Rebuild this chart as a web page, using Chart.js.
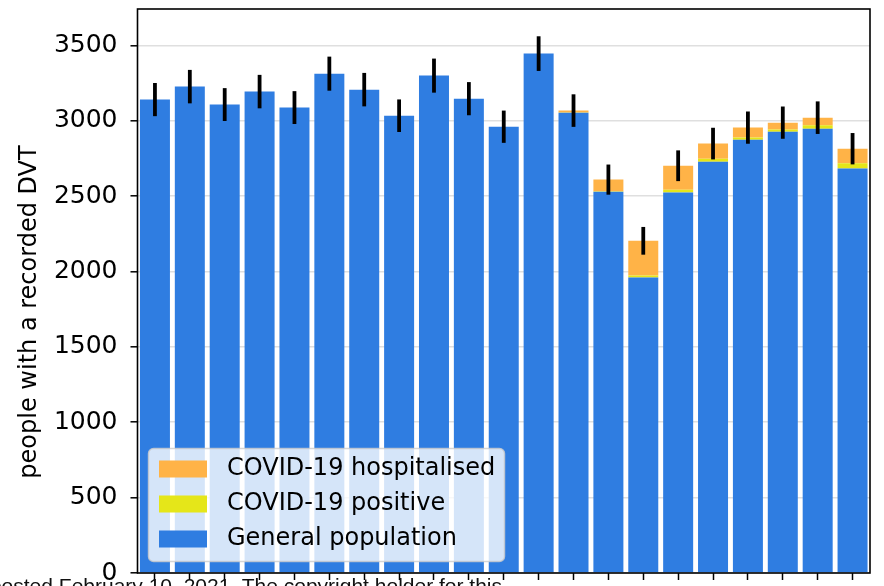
<!DOCTYPE html>
<html>
<head>
<meta charset="utf-8">
<script src="https://cdn.jsdelivr.net/npm/chart.js@4.4.1/dist/chart.umd.min.js"></script>
<style>
  html, body { margin: 0; padding: 0; background: #fff; }
  #wrap { position: relative; width: 884px; height: 586px; overflow: hidden; }
  #chart { position: absolute; left: 0; top: 0; }
  #stamp {
    position: absolute; left: 0; top: 575px; width: 502px;
    font: 21px "Liberation Sans", Arial, sans-serif; line-height: 1;
    color: #111; white-space: nowrap; overflow: hidden; direction: rtl; text-align: left;
  }
</style>
</head>
<body>
<div id="wrap">
  <canvas id="chart" width="884" height="586"></canvas>
  <div id="stamp"><span style="direction:ltr; unicode-bidi:embed">medRxiv preprint doi: this version posted February 10, 2021. The copyright holder for this</span></div>
</div>
<script>
const periods = ["1", "2", "3", "4", "5", "6", "7", "8", "9", "10", "11",
  "12", "13", "14", "15", "16", "17", "18", "19", "20", "21"];
const general = [3141, 3227, 3108, 3194, 3088, 3313, 3207, 3034, 3300, 3147, 2961,
  3446, 3054, 2530, 1961, 2525, 2729, 2875, 2928, 2948, 2683];
const positive = [0, 0, 0, 0, 0, 0, 0, 0, 0, 0, 0,
  0, 2, 3, 13, 18, 20, 15, 15, 22, 35];
const hospitalised = [0, 0, 0, 0, 0, 0, 0, 0, 0, 0, 0,
  0, 12, 77, 230, 159, 100, 65, 45, 51, 97];
const errors = [110, 111, 109, 111, 109, 113, 111, 108, 113, 110, 107,
  115, 108, 100, 92, 102, 105, 107, 107, 108, 104];
const yTicks = [0, 500, 1000, 1500, 2000, 2500, 3000, 3500];

const BLUE = "#2f7de1";
const YELLOW = "#e5e619";
const ORANGE = "#ffb347";
const FONT = '"DejaVu Sans", Verdana, sans-serif';

const legendItems = [
  { label: "COVID-19 hospitalised", color: ORANGE },
  { label: "COVID-19 positive", color: YELLOW },
  { label: "General population", color: BLUE }
];

// error bars, frame, legend and y title drawn after the bars and grid
const overlay = {
  id: "overlay",
  afterDraw(chart) {
    const ctx = chart.ctx;
    const x = chart.scales.x;
    const y = chart.scales.y;
    const area = chart.chartArea;

    ctx.save();
    ctx.strokeStyle = "#000";
    ctx.lineWidth = 3.8;
    general.forEach((g, i) => {
      const total = g + positive[i] + hospitalised[i];
      const px = x.getPixelForValue(i);
      ctx.beginPath();
      ctx.moveTo(px, y.getPixelForValue(total - errors[i]));
      ctx.lineTo(px, y.getPixelForValue(total + errors[i]));
      ctx.stroke();
    });

    // legend box
    const lx = 148.5, ly = 448.5, lw = 356, lh = 113, r = 5;
    ctx.beginPath();
    ctx.moveTo(lx + r, ly);
    ctx.arcTo(lx + lw, ly, lx + lw, ly + lh, r);
    ctx.arcTo(lx + lw, ly + lh, lx, ly + lh, r);
    ctx.arcTo(lx, ly + lh, lx, ly, r);
    ctx.arcTo(lx, ly, lx + lw, ly, r);
    ctx.closePath();
    ctx.fillStyle = "rgba(255,255,255,0.8)";
    ctx.fill();
    ctx.strokeStyle = "rgba(204,204,204,0.8)";
    ctx.lineWidth = 1.5;
    ctx.stroke();

    ctx.font = "24px " + FONT;
    ctx.textBaseline = "middle";
    ctx.textAlign = "left";
    legendItems.forEach((item, k) => {
      const cy = 469 + k * 35;
      ctx.fillStyle = item.color;
      ctx.fillRect(159, cy - 8.5, 48, 17);
      ctx.fillStyle = "#000";
      ctx.fillText(item.label, 227, cy);
    });

    // axes frame
    ctx.strokeStyle = "#000";
    ctx.lineWidth = 1.6;
    ctx.strokeRect(area.left, area.top, area.right - area.left, area.bottom - area.top);

    // y title
    ctx.translate(36, 312);
    ctx.rotate(-Math.PI / 2);
    ctx.textAlign = "center";
    ctx.textBaseline = "alphabetic";
    ctx.fillStyle = "#000";
    ctx.fillText("people with a recorded DVT", 0, 0);
    ctx.restore();
  }
};

new Chart(document.getElementById("chart"), {
  type: "bar",
  data: {
    labels: periods,
    datasets: [
      { label: "General population", data: general, backgroundColor: BLUE },
      { label: "COVID-19 positive", data: positive, backgroundColor: YELLOW },
      { label: "COVID-19 hospitalised", data: hospitalised, backgroundColor: ORANGE }
    ]
  },
  options: {
    responsive: false,
    animation: false,
    layout: { padding: { top: 9, right: 14, left: 0, bottom: 0 } },
    datasets: { bar: { barPercentage: 0.86, categoryPercentage: 1, borderWidth: 0 } },
    plugins: { legend: { display: false }, tooltip: { enabled: false } },
    scales: {
      x: {
        stacked: true,
        offset: true,
        border: { display: false },
        grid: { display: true, offset: false, drawOnChartArea: false, drawTicks: true,
          tickLength: 7, tickColor: "#000", tickWidth: 1.5 },
        ticks: { display: false },
        afterFit(scale) {
          scale.height = 13;
          scale.paddingLeft = 0;
          scale.paddingRight = 0;
        }
      },
      y: {
        stacked: true,
        min: 0,
        max: 3742,
        z: 1,
        border: { display: false },
        grid: { color: "rgba(128,128,128,0.25)", lineWidth: 1.6, drawTicks: true,
          tickLength: 7, tickColor: "#000", tickWidth: 1.5 },
        ticks: {
          padding: 13,
          color: "#000",
          font: { family: FONT, size: 25 },
          callback: (v) => String(v)
        },
        afterBuildTicks(scale) { scale.ticks = yTicks.map((v) => ({ value: v })); },
        afterFit(scale) {
          scale.width = 137.5;
          scale.paddingTop = 0;
          scale.paddingBottom = 0;
        }
      }
    }
  },
  plugins: [overlay]
});
</script>
</body>
</html>
